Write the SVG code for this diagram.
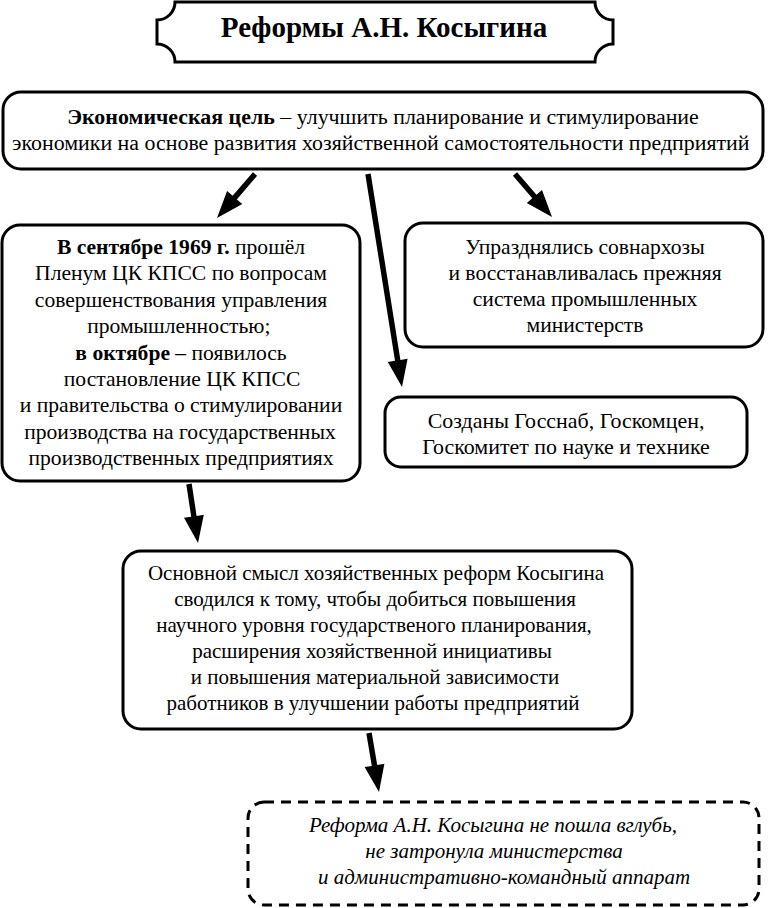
<svg xmlns="http://www.w3.org/2000/svg" width="768" height="908" viewBox="0 0 768 908">
<defs>
<style>
.box{fill:#fff;stroke:#000;stroke-width:3}
.dash{fill:#fff;stroke:#000;stroke-width:3;stroke-dasharray:10 7}
.t{font-size:20px;fill:#000;text-anchor:middle}
.u{font-size:21px;fill:#000;text-anchor:middle}
.i{font-style:italic}
.b{font-weight:bold}
.ttl{font-size:29px;font-weight:bold;fill:#000;text-anchor:middle}
.arr{fill:#000;stroke:none}
</style>
</defs>
<rect width="768" height="908" fill="#fff"/>

<g id="title">
<path class="box" d="M175,2 H595 A18,18 0 0 0 613,20 V44 A18,18 0 0 0 595,62 H175 A18,18 0 0 0 157,44 V20 A18,18 0 0 0 175,2 Z"/>
<text class="ttl" font-family="Liberation Serif" x="384" y="37">Реформы А.Н. Косыгина</text>
</g>

<g id="goal">
<rect class="box" x="3" y="92" width="760" height="77" rx="18"/>
<text class="t" font-family="Liberation Serif" transform="translate(383 0) scale(1.095 1)" x="0" y="124"><tspan class="b">Экономическая цель</tspan> – улучшить планирование и стимулирование</text>
<text class="t" font-family="Liberation Serif" transform="translate(383 0) scale(1.095 1)" x="-2" y="150">экономики на основе развития хозяйственной самостоятельности предприятий</text>
</g>

<g id="plenum">
<rect class="box" x="2" y="225" width="358" height="256" rx="18"/>
<text class="t" font-family="Liberation Serif" transform="translate(181 0) scale(1.08 1)" x="0" y="254"><tspan class="b">В сентябре 1969 г.</tspan> прошёл</text>
<text class="t" font-family="Liberation Serif" transform="translate(181 0) scale(1.08 1)" x="0" y="280.5">Пленум ЦК КПСС по вопросам</text>
<text class="t" font-family="Liberation Serif" transform="translate(181 0) scale(1.08 1)" x="0" y="307">совершенствования управления</text>
<text class="t" font-family="Liberation Serif" transform="translate(181 0) scale(1.08 1)" x="-2" y="333">промышленностью;</text>
<text class="t" font-family="Liberation Serif" transform="translate(181 0) scale(1.08 1)" x="0" y="360"><tspan class="b">в октябре</tspan> – появилось</text>
<text class="t" font-family="Liberation Serif" transform="translate(181 0) scale(1.08 1)" x="1" y="386">постановление ЦК КПСС</text>
<text class="t" font-family="Liberation Serif" transform="translate(181 0) scale(1.08 1)" x="0" y="412.5">и правительства о стимулировании</text>
<text class="t" font-family="Liberation Serif" transform="translate(181 0) scale(1.08 1)" x="-1" y="439">производства на государственных</text>
<text class="t" font-family="Liberation Serif" transform="translate(181 0) scale(1.08 1)" x="0" y="465">производственных предприятиях</text>
</g>

<g id="sovnarkhozy">
<rect class="box" x="405" y="223" width="358" height="124" rx="18"/>
<text class="t" font-family="Liberation Serif" transform="translate(585 0) scale(1.08 1)" x="0" y="254">Упразднялись совнархозы</text>
<text class="t" font-family="Liberation Serif" transform="translate(585 0) scale(1.08 1)" x="0" y="280">и восстанавливалась прежняя</text>
<text class="t" font-family="Liberation Serif" transform="translate(585 0) scale(1.08 1)" x="0" y="306">система промышленных</text>
<text class="t" font-family="Liberation Serif" transform="translate(585 0) scale(1.08 1)" x="0" y="332">министерств</text>
</g>

<g id="gossnab">
<rect class="box" x="385" y="397" width="362" height="70" rx="16"/>
<text class="u" font-family="Liberation Serif" transform="translate(566 0) scale(1.045 1)" x="0" y="428">Созданы Госснаб, Госкомцен,</text>
<text class="u" font-family="Liberation Serif" transform="translate(566 0) scale(1.045 1)" x="0" y="454">Госкомитет по науке и технике</text>
</g>

<g id="meaning">
<rect class="box" x="123" y="551" width="509" height="178" rx="18"/>
<text class="u" font-family="Liberation Serif" x="376" y="580">Основной смысл хозяйственных реформ Косыгина</text>
<text class="u" font-family="Liberation Serif" x="375" y="606">сводился к тому, чтобы добиться повышения</text>
<text class="u" font-family="Liberation Serif" x="374" y="632">научного уровня государственого планирования,</text>
<text class="u" font-family="Liberation Serif" x="372" y="658">расширения хозяйственной инициативы</text>
<text class="u" font-family="Liberation Serif" x="375" y="684">и повышения материальной зависимости</text>
<text class="u" font-family="Liberation Serif" x="373" y="710">работников в улучшении работы предприятий</text>
</g>

<g id="result">
<rect class="dash" x="248" y="802" width="511" height="103" rx="16"/>
<text class="u i" font-family="Liberation Serif" x="493" y="832">Реформа А.Н. Косыгина не пошла вглубь,</text>
<text class="u i" font-family="Liberation Serif" x="494" y="858">не затронула министерства</text>
<text class="u i" font-family="Liberation Serif" x="504" y="884">и административно-командный аппарат</text>
</g>

<g id="connectors">
<polygon class="arr" points="257.1,175.8 236.8,199.4 242.3,204.1 217,218 227.1,191.1 232.6,195.8 252.9,172.2"/>
<polygon class="arr" points="370.7,173.6 400.4,359.9 407.6,358.7 402,387 387.8,361.9 395,360.7 365.3,174.4"/>
<polygon class="arr" points="517.1,172.2 536.5,194.7 542,190 552,217 526.8,203 532.3,198.3 512.9,175.8"/>
<polygon class="arr" points="191.7,483.6 196.6,515.9 203.8,514.8 198,543 184,517.8 191.2,516.7 186.3,484.4"/>
<polygon class="arr" points="371.7,732.5 377.2,764.9 384.4,763.7 379,792 364.6,767.1 371.8,765.9 366.3,733.5"/>
</g>
</svg>
